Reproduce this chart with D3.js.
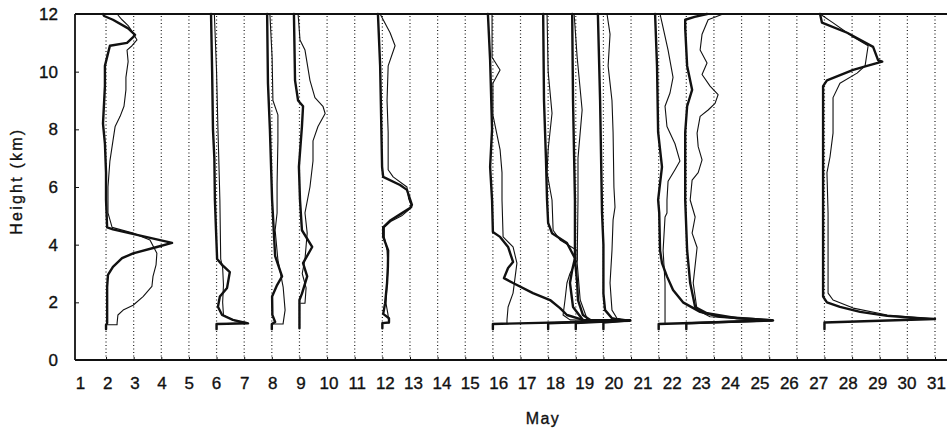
<!DOCTYPE html>
<html>
<head>
<meta charset="utf-8">
<script src="https://cdn.jsdelivr.net/npm/d3@7"></script>
<style>
body { margin: 0; background: #fff; }
text { font-family: "Liberation Sans", Arial, sans-serif; fill: #111; stroke: #111; stroke-width: 0.35px; }
</style>
</head>
<body>
<svg id="chart"></svg>
<script>
const dayLabels = d3.range(1, 32);
const gridDays = d3.range(2, 33);
const heightTicks = [0, 2, 4, 6, 8, 10, 12];

// where each sounding sits on the day axis
const profileDays = [2, 6, 8, 9, 12, 16, 18, 19, 20, 22, 23, 28];

// [offset from the day (days), height (km)]
const thickProfiles = [
    [[0,1.07],[0,1.22],[0.04,1.28],[0.04,1.73],[0.04,2.53],[0.07,2.95],[0.25,3.23],[0.58,3.53],[0.98,3.7],[1.84,3.92],[2.39,4.06],[0.25,4.53],[0.04,4.6],[0,5.55],[0,6.5],[-0.04,7.5],[-0.11,8.2],[-0.04,9.5],[-0.04,10.2],[0.14,10.9],[0.76,11.0],[0.98,11.2],[1.05,11.28],[0.8,11.5],[0.25,11.8],[-0.07,11.93],[-0.11,12]],
    [[0,1.07],[0,1.25],[1.14,1.27],[0.59,1.39],[0.2,1.56],[0.05,1.85],[0.12,2.2],[0.38,2.5],[0.48,3.05],[0.2,3.3],[0.02,3.5],[-0.02,4.5],[-0.06,5.55],[-0.08,7],[-0.13,8],[-0.16,10],[-0.2,12]],
    [[0,1.07],[0,1.25],[0.12,1.32],[0.02,1.56],[0.01,2.2],[0.19,2.6],[0.37,2.9],[0.12,3.6],[0.01,5.55],[-0.07,8],[-0.14,9.6],[-0.17,12]],
    [[0,1.1],[0,2.08],[0.09,2.3],[0.28,2.9],[0.13,3.36],[0.46,3.92],[0.09,4.5],[0.02,5.55],[-0.02,6.7],[0.09,8.1],[0.13,8.8],[-0.05,9.0],[-0.16,9.7],[-0.2,12]],
    [[0,1.1],[0,1.28],[0.24,1.3],[0.24,1.45],[0.03,1.6],[0.1,1.97],[0.17,2.67],[0.2,3.23],[0.21,3.8],[0.03,4.27],[0.03,4.6],[0.3,4.85],[0.64,5.05],[1.0,5.27],[1.07,5.38],[0.89,5.9],[0.64,6.07],[0.03,6.35],[-0.01,6.7],[-0.08,10.2],[-0.16,12]],
    [[0,1.07],[0,1.25],[4.95,1.36],[4.3,1.38],[3.26,1.39],[2.68,1.56],[2.43,1.8],[2.07,2.08],[1.45,2.32],[0.73,2.67],[0.4,2.84],[0.55,3.19],[0.73,3.4],[0.55,3.92],[0.26,4.27],[0,4.44],[-0.03,5.55],[-0.1,6.7],[-0.03,8.0],[-0.1,10.4],[-0.18,12]],
    [[0,1.07],[0,1.27],[2.96,1.38],[1.8,1.38],[1.26,1.39],[0.9,1.84],[0.79,2.67],[0.87,3.12],[0.97,3.53],[0.68,4.06],[0.14,4.4],[0,4.75],[-0.04,5.55],[-0.08,7],[-0.15,9],[-0.18,12]],
    [[0,1.07],[0,1.28],[1.97,1.38],[1.2,1.38],[0.52,1.39],[0.26,1.56],[0.08,2.08],[0.05,2.67],[-0.03,3.5],[-0.03,5.55],[-0.1,9.0],[-0.13,12]],
    [[0,1.07],[0,1.3],[0.96,1.38],[0.6,1.39],[0.31,1.45],[0.06,1.73],[0,2.3],[0,4.0],[-0.05,5.1],[-0.12,9.0],[-0.2,12]],
    [[0,1.07],[0,1.25],[4.14,1.37],[3.42,1.42],[2.22,1.5],[1.5,1.67],[0.88,2.0],[0.52,2.43],[0.3,2.9],[0.12,3.36],[0.05,3.8],[0.02,5.1],[-0.02,5.55],[0.12,6.7],[-0.02,7.9],[-0.06,10.2],[-0.13,12]],
    [[0,1.07],[0,1.27],[3.1,1.38],[1.84,1.45],[0.75,1.62],[0.32,1.84],[0.14,2.67],[0.03,3.8],[-0.04,5.55],[-0.04,7.9],[0.03,8.8],[0.21,9.37],[0.03,10.2],[-0.04,11.5],[-0.04,11.8],[0.3,11.9],[0.75,12]],
    [[0,1.07],[0,1.3],[4.0,1.42],[3.46,1.45],[2.27,1.53],[1.29,1.67],[0.56,1.84],[0.09,2.0],[-0.05,2.2],[-0.05,5.1],[-0.05,9.5],[0.09,9.7],[1.04,10.06],[1.54,10.2],[2.09,10.35],[1.94,10.4],[1.76,10.86],[0.82,11.35],[-0.09,11.7],[-0.16,12]]
];

const thinProfiles = [
    [[0,1.22],[0.4,1.22],[0.4,1.28],[0.43,1.56],[0.62,1.73],[0.98,1.9],[1.34,2.2],[1.66,2.55],[1.7,2.9],[1.81,3.3],[1.84,3.7],[1.59,4.16],[0.98,4.4],[0.22,4.6],[0.07,5.1],[0.07,6.0],[0.14,6.9],[0.25,7.6],[0.33,8.1],[0.51,8.45],[0.65,8.8],[0.72,9.37],[0.72,9.8],[0.8,10.35],[0.76,10.75],[0.94,10.9],[1.12,11.1],[0.94,11.4],[0.8,11.6],[0.58,11.8],[0.4,12]],
    [[0,1.25],[1.1,1.3],[0.65,1.36],[0.25,1.56],[0.22,2.0],[0.25,2.6],[0.22,3.2],[0.15,3.5],[0.12,5.55],[0.08,7],[0.05,8],[0,10],[-0.08,12]],
    [[0,1.25],[0.41,1.25],[0.41,1.28],[0.48,1.73],[0.41,2.53],[0.22,3.47],[0.12,4.5],[0.19,5.1],[0.19,6.1],[0.22,7.6],[0.22,8.5],[0.04,9],[0.01,10.5],[-0.07,12]],
    [[0.05,1.97],[0.2,1.97],[0.24,2.5],[0.1,3.0],[0.2,3.5],[0.28,4.4],[0.2,5.1],[0.38,6.0],[0.49,6.9],[0.49,7.6],[0.67,8.1],[0.93,8.55],[0.85,8.8],[0.56,9.1],[0.38,9.7],[0.2,10.75],[0.02,11.1],[-0.05,12]],
    [[0.24,1.28],[0.2,1.6],[0.13,1.97],[0.17,2.67],[0.21,3.23],[0.17,3.8],[0.07,4.27],[0.07,4.6],[0.3,4.8],[0.7,5.0],[1.07,5.3],[0.95,5.6],[0.89,6.0],[0.39,6.35],[0.21,6.6],[0.21,7.9],[0.17,9.0],[0.21,10.2],[0.46,10.9],[0.28,11.35],[-0.08,12]],
    [[0.51,1.25],[0.51,1.39],[0.55,1.84],[0.73,2.32],[0.87,3.36],[0.73,3.92],[0.37,4.27],[0.33,5.55],[0.33,6.5],[0.26,7.3],[0,8.5],[0,9.6],[0.26,10.06],[-0.03,10.5],[-0.03,12]],
    [[2.9,1.36],[1.5,1.37],[0.79,1.39],[0.54,1.56],[0.61,2.08],[0.68,2.67],[0.79,3.0],[1.05,3.47],[1.05,3.8],[0.43,4.16],[0.18,4.5],[0.14,5.55],[-0.04,6.5],[0,7.3],[0.14,8.56],[0,10.0],[-0.04,12]],
    [[1.9,1.37],[0.8,1.38],[0.41,1.42],[0.16,2.08],[0.05,3.36],[0.08,5.55],[0.08,7.0],[0.23,8.67],[0.05,10.5],[-0.06,12]],
    [[0.96,1.38],[0.49,1.45],[0.31,1.73],[0.24,2.67],[0.31,3.8],[0.35,4.86],[0.42,5.3],[0.38,6.0],[0.35,7.9],[0.31,9.0],[0.17,10.2],[0.24,11.3],[0.13,12]],
    [[0.23,1.3],[0.23,2.67],[0.16,3.8],[0.23,4.96],[0.3,5.1],[0.3,5.55],[0.34,6.2],[0.59,6.6],[0.77,6.9],[0.59,7.5],[0.3,8.1],[0.23,8.8],[0.41,9.26],[0.52,9.8],[0.34,10.75],[0.12,11.7],[0.05,12]],
    [[3.1,1.38],[2.42,1.42],[0.86,1.5],[0.39,1.73],[0.25,2.67],[0.39,3.9],[0.21,4.4],[0.32,4.96],[0.14,5.55],[0.21,6.24],[0.43,6.5],[0.57,6.94],[0.43,7.4],[0.39,7.87],[0.5,8.45],[0.79,8.67],[1.04,8.9],[1.15,9.2],[0.86,9.5],[0.57,9.9],[0.75,10.3],[0.5,10.75],[0.57,11.3],[0.79,11.8],[1.33,12]],
    [[4.0,1.42],[2.27,1.56],[1.04,1.8],[0.31,2.08],[0.13,2.32],[0.13,5.1],[0.09,6.5],[0.2,7.04],[0.31,7.87],[0.31,9.1],[0.56,9.6],[1.18,9.95],[1.47,10.2],[1.58,10.9],[1.04,11.2],[0.3,11.7],[-0.16,12]]
];

const width = 947;
const height = 433;
const plotLeft = 75, plotRight = 947, plotTop = 14, plotBottom = 360;

const svg = d3.select("#chart").attr("width", width).attr("height", height);

const xScale = d3.scaleLinear().domain([1, 32]).range([78.4, 935]);
// the printed day labels drift away from the ticks towards the right
const labelScale = d3.scaleLinear().domain([1, 6, 13, 18, 24, 31]).range([80, 216, 413, 555, 730, 936]);
const yScale = d3.scaleLinear().domain([0, 12]).range([plotBottom, plotTop]);

// dotted day lines
svg.append("g").selectAll("line").data(gridDays).enter().append("line")
    .attr("x1", d => xScale(d)).attr("x2", d => xScale(d))
    .attr("y1", plotBottom).attr("y2", plotTop)
    .attr("stroke", "#222").attr("stroke-width", 1.2)
    .attr("stroke-dasharray", "1,2.5");

// frame lines
svg.append("line").attr("x1", plotLeft).attr("x2", plotRight).attr("y1", plotTop).attr("y2", plotTop)
    .attr("stroke", "#111").attr("stroke-width", 1.8);
svg.append("line").attr("x1", plotLeft).attr("x2", plotRight).attr("y1", plotBottom).attr("y2", plotBottom)
    .attr("stroke", "#111").attr("stroke-width", 1.8);
svg.append("line").attr("x1", plotLeft).attr("x2", plotLeft).attr("y1", plotTop).attr("y2", plotBottom)
    .attr("stroke", "#111").attr("stroke-width", 1.8);

// x ticks and labels
const gx = svg.append("g").attr("transform", `translate(0,${plotBottom})`)
    .call(d3.axisBottom(xScale).tickValues(gridDays).tickSize(-3).tickFormat(""));
gx.select(".domain").remove();
gx.selectAll("line").attr("stroke", "#111");

const gxl = svg.append("g").attr("transform", `translate(0,${plotBottom})`)
    .call(d3.axisBottom(labelScale).tickValues(dayLabels).tickSize(0).tickPadding(17));
gxl.select(".domain").remove();
gxl.selectAll("text").attr("font-size", 17).attr("fill", "#111");

// y axis
const gy = svg.append("g").attr("transform", `translate(${plotLeft},0)`)
    .call(d3.axisLeft(yScale).tickValues(heightTicks).tickSize(-4).tickPadding(17));
gy.select(".domain").remove();
gy.selectAll("line").attr("stroke", "#111");
gy.selectAll("text").attr("font-size", 17).attr("fill", "#111");

// profiles
const line = day => d3.line().x(d => xScale(day + d[0])).y(d => yScale(d[1]));
const plot = svg.append("g").attr("fill", "none").attr("stroke", "#111")
    .attr("stroke-linejoin", "round").attr("stroke-linecap", "round");
profileDays.forEach((day, i) => {
    plot.append("path").attr("d", line(day)(thinProfiles[i])).attr("stroke-width", 1.1);
    plot.append("path").attr("d", line(day)(thickProfiles[i])).attr("stroke-width", 2.4);
});

// titles
svg.append("text").attr("transform", `translate(22,${yScale(6.2)}) rotate(-90)`)
    .attr("text-anchor", "middle").attr("font-size", 16).attr("letter-spacing", 2.2)
    .text("Height (km)");
svg.append("text").attr("x", 543).attr("y", 424)
    .attr("text-anchor", "middle").attr("font-size", 16).attr("letter-spacing", 1.5)
    .text("May");
</script>
</body>
</html>
